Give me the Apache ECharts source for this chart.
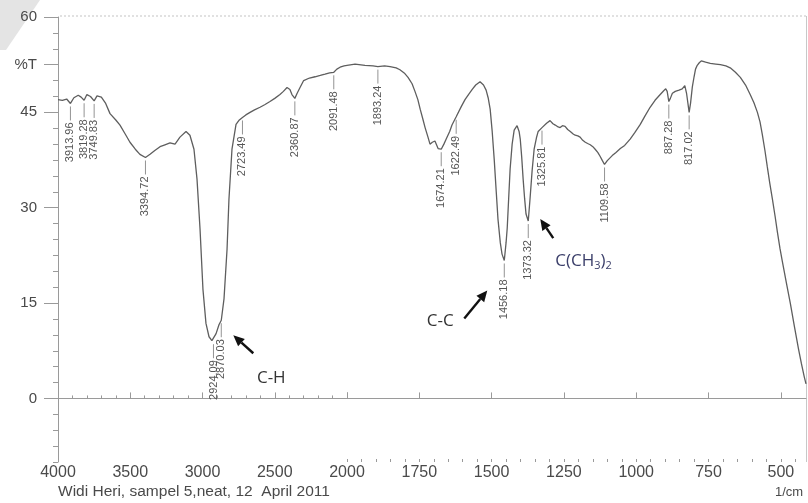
<!DOCTYPE html>
<html>
<head>
<meta charset="utf-8">
<title>IR spectrum – sampel 5</title>
<script src="https://cdn.jsdelivr.net/npm/echarts@6/dist/echarts.min.js"></script>
<style>
  html, body { margin: 0; padding: 0; background: #ffffff; }
  #chart { width: 808px; height: 503px; }
</style>
</head>
<body>
<div id="chart"></div>
<script>
// Wavenumber (1/cm) and transmittance (%T) of the recorded spectrum
const wavenumber = [
  4000, 3970, 3940, 3913.96, 3890, 3860, 3840, 3819.28, 3800, 3775, 3749.83, 3730, 3700,
  3670, 3640, 3600, 3571, 3535, 3502, 3465, 3433, 3394.72, 3363, 3330, 3294, 3260, 3225,
  3190, 3156, 3114, 3087, 3059, 3038, 3017, 2997, 2976, 2955, 2935, 2924.09, 2906, 2886,
  2870.03, 2851, 2830, 2817, 2796, 2768, 2745, 2723.49, 2700, 2671, 2640, 2602, 2570, 2533,
  2500, 2464, 2440, 2415, 2395, 2381, 2360.87, 2345, 2325, 2300, 2260, 2221, 2185, 2152,
  2120, 2091.48, 2070, 2048, 2020, 2000,
  1972, 1938, 1910, 1893.24, 1870, 1851, 1830, 1817, 1800, 1789, 1775, 1765, 1755, 1747,
  1738, 1730, 1720, 1713, 1705, 1696, 1685, 1674.21, 1665, 1657, 1645, 1637, 1622.49, 1605,
  1592, 1580, 1567, 1555, 1540, 1528, 1519, 1512, 1505, 1498, 1491, 1484, 1478, 1470, 1464,
  1456.18, 1450, 1446, 1441, 1436, 1429, 1422, 1412, 1405, 1401, 1396, 1391, 1386, 1381,
  1373.32, 1367, 1360, 1353, 1345, 1339, 1325.81, 1310, 1298, 1288, 1280, 1270, 1263, 1255,
  1246, 1237, 1228, 1218, 1211, 1202, 1194, 1185, 1176, 1168, 1159, 1150, 1142, 1133, 1125,
  1117, 1109.58, 1100, 1083, 1070, 1055, 1040, 1021, 1005, 986, 970, 952, 935, 917, 905,
  898, 893, 887.28, 882, 875, 865, 852, 841, 832, 826, 817.02, 812, 806, 800, 795, 789,
  782, 775, 760, 744, 725, 709, 690, 675, 657, 640, 622, 606, 593, 581, 572, 564, 555, 547,
  538, 529, 520, 512, 503, 495, 481, 467, 453, 439, 429, 419, 413
];
const transmittance = [
  47.0, 46.9, 47.1, 46.4, 47.3, 47.7, 47.4, 46.9, 47.8, 47.5, 46.8, 47.6, 47.4,
  46.4, 44.8, 43.8, 43.0, 41.6, 40.3, 39.2, 38.4, 37.9, 38.4, 39.0, 39.6, 39.9, 40.2,
  40.0, 41.1, 42.0, 41.4, 39.2, 34.5, 26.6, 17.2, 11.8, 9.7, 9.1, 9.0, 10.2, 11.6,
  12.3, 15.7, 23.5, 31.3, 39.2, 43.1, 43.8, 44.2, 44.6, 45.0, 45.4, 45.8, 46.2, 46.7,
  47.2, 47.8, 48.3, 48.9, 48.6, 47.8, 47.2, 48.0, 48.9, 50.0, 50.4, 50.6, 50.8, 51.0,
  51.2, 51.3, 51.8, 52.1, 52.3, 52.4,
  52.6, 52.4, 52.3, 52.2, 52.3, 52.2, 52.0, 51.7, 51.1, 50.5, 49.5, 48.3, 47.0, 45.5,
  44.0, 42.6, 41.1, 40.0, 40.3, 40.5, 39.3, 39.2, 40.0, 40.8, 42.0, 43.0, 44.3, 45.9,
  47.0, 47.8, 48.6, 49.3, 49.8, 49.3, 48.5, 47.3, 45.5, 42.0, 37.6, 32.5, 28.2, 24.5, 22.7,
  21.7, 24.5, 26.8, 31.5, 36.1, 40.0, 42.2, 42.9, 42.0, 40.8, 38.0, 34.5, 31.5, 29.0,
  27.9, 31.5, 35.8, 39.2, 41.0, 42.0, 42.6, 43.3, 43.7, 43.2, 43.0, 42.7, 42.6, 42.9,
  42.8, 42.3, 42.0, 41.6, 41.4, 41.3, 41.1, 40.6, 40.3, 40.1, 39.9, 39.6, 39.2, 38.7, 38.1,
  37.4, 36.8, 37.4, 38.2, 38.7, 39.3, 39.8, 40.8, 41.8, 43.1, 44.4, 45.8, 46.9, 47.8, 48.4,
  48.7, 48.3, 46.7, 47.2, 48.0, 48.3, 48.5, 48.7, 49.2, 48.0, 45.0, 46.5, 49.0, 50.6, 51.8, 52.4,
  52.8, 53.1, 52.9, 52.7, 52.6, 52.5, 52.3, 52.0, 51.3, 50.5, 49.3, 47.8, 46.5, 45.0, 43.5, 41.5, 39.0, 36.5,
  33.8, 31.3, 28.7, 26.2, 23.6, 21.6, 18.2, 14.9, 11.3, 7.8, 5.5, 3.4, 2.3
];

// Peak positions printed along the trace
const peakLabels = [
  "3913.96", "3819.28", "3749.83", "3394.72", "2924.09", "2870.03", "2723.49", "2360.87",
  "2091.48", "1893.24", "1674.21", "1622.49", "1456.18", "1373.32", "1325.81", "1109.58",
  "887.28", "817.02"
];

// Axis tick values (the wavenumber scale doubles below 2000 1/cm)
const upperTicks = [4000, 3500, 3000, 2500, 2000];
const lowerTicks = [2000, 1750, 1500, 1250, 1000, 750, 500];
const yTicks = [0, 15, 30, 45, 52.5, 60];
const yTickText = ["0", "15", "30", "45", "%T", "60"];

// Band assignments: group label and the band it points at
const bandNames = ["C-H", "C-C", "C(CH3)2"];
const bandPeaks = [2870.03, 1456.18, 1373.32];

const caption = "Widi Heri, sampel 5,neat, 12  April 2011";
const unitLabel = "1/cm";

// ---- series data, split at 2000 1/cm ----
const upperData = [], lowerData = [];
wavenumber.forEach((w, i) => {
  if (w >= 2000) upperData.push([w, transmittance[i]]);
  if (w <= 2000) lowerData.push([w, transmittance[i]]);
});
function peakPoint(txt) {
  const w = parseFloat(txt);
  const i = wavenumber.indexOf(w);
  return { w: w, t: transmittance[i], txt: txt };
}
const upperPeaks = peakLabels.map(peakPoint).filter(p => p.w > 2000);
const lowerPeaks = peakLabels.map(peakPoint).filter(p => p.w < 2000);

// minor tick positions
function steps(from, to, step) {
  const out = [];
  for (let v = from; v <= to + 1e-9; v += step) out.push(Math.round(v * 100) / 100);
  return out;
}
const upperMinor = steps(2000, 4000, 100);
const lowerMinor = steps(450, 2000, 50);
const yMinor = steps(-10, 60, 2.5);

const axisGray = '#9a9a9a';
const textGray = '#4a4a4a';
const traceGray = '#5e5e5e';
const tickFont = 'Liberation Sans, Arial, sans-serif';

function peakRenderer(list) {
  return function (params, api) {
    const p = api.coord([api.value(0), api.value(1)]);
    const txt = list[params.dataIndex].txt;
    return {
      type: 'group',
      children: [
        { type: 'line', shape: { x1: p[0], y1: p[1] + 3, x2: p[0], y2: p[1] + 17 },
          style: { stroke: '#777', lineWidth: 0.8 } },
        { type: 'text', x: p[0], y: p[1] + 19, rotation: Math.PI / 2,
          style: { text: txt, align: 'right', verticalAlign: 'middle',
                   font: '11px "Liberation Sans", Arial, sans-serif', fill: '#555' } }
      ]
    };
  };
}

function mainX(grid, min, max, ticks, hideFirst) {
  return {
    type: 'value', gridIndex: grid, min: min, max: max, inverse: true, position: 'bottom',
    axisLine: { lineStyle: { color: axisGray, width: 1 } },
    axisTick: { inside: true, length: 6, customValues: ticks, lineStyle: { color: axisGray } },
    splitLine: { show: false },
    axisLabel: {
      margin: 3, color: textGray, fontSize: 16, fontFamily: tickFont, customValues: ticks,
      showMinLabel: true, showMaxLabel: true,
      formatter: v => (hideFirst && v === 2000) ? '' : String(v)
    }
  };
}
function minorX(grid, min, max, ticks) {
  return {
    type: 'value', gridIndex: grid, min: min, max: max, inverse: true, position: 'bottom',
    axisLine: { show: false },
    axisTick: { inside: true, length: 3, customValues: ticks, lineStyle: { color: axisGray } },
    axisLabel: { show: false },
    splitLine: { show: false }
  };
}

const chart = echarts.init(document.getElementById('chart'), null, { renderer: 'canvas' });

const option = {
  backgroundColor: '#ffffff',
  animation: false,
  grid: [
    { left: 58, top: 17, width: 289, height: 445 },
    { left: 347, top: 17, width: 459, height: 445 }
  ],
  xAxis: [
    mainX(0, 2000, 4000, upperTicks, false),
    minorX(0, 2000, 4000, upperMinor),
    mainX(1, 413, 2000, lowerTicks, true),
    minorX(1, 413, 2000, lowerMinor)
  ],
  yAxis: [
    {
      type: 'value', gridIndex: 0, min: -10, max: 60, position: 'left',
      axisLine: { show: true, lineStyle: { color: axisGray, width: 1 } },
      axisTick: { show: true, length: 14, customValues: yTicks, lineStyle: { color: axisGray } },
      splitLine: { show: false },
      axisLabel: {
        margin: 21, color: textGray, fontSize: 15, fontFamily: tickFont, customValues: yTicks,
        formatter: v => {
          const k = yTicks.findIndex(t => Math.abs(t - v) < 1e-6);
          return k >= 0 ? yTickText[k] : '';
        }
      }
    },
    {
      type: 'value', gridIndex: 0, min: -10, max: 60, position: 'left',
      axisLine: { show: false },
      axisTick: { show: true, length: 5, customValues: yMinor, lineStyle: { color: axisGray } },
      axisLabel: { show: false },
      splitLine: { show: false }
    },
    { type: 'value', gridIndex: 1, min: -10, max: 60, show: false, splitLine: { show: false } }
  ],
  series: [
    {
      type: 'line', xAxisIndex: 0, yAxisIndex: 0, data: upperData, showSymbol: false,
      lineStyle: { color: traceGray, width: 1.3 }, silent: true
    },
    {
      type: 'line', xAxisIndex: 2, yAxisIndex: 2, data: lowerData, showSymbol: false,
      lineStyle: { color: traceGray, width: 1.3 }, silent: true
    },
    {
      type: 'custom', xAxisIndex: 0, yAxisIndex: 0, clip: false, silent: true,
      data: upperPeaks.map(p => [p.w, p.t]), renderItem: peakRenderer(upperPeaks)
    },
    {
      type: 'custom', xAxisIndex: 2, yAxisIndex: 2, clip: false, silent: true,
      data: lowerPeaks.map(p => [p.w, p.t]), renderItem: peakRenderer(lowerPeaks)
    }
  ]
};
chart.setOption(option);

// ---- band annotations: arrows pointing at the assigned bands ----
function bandPixel(w) {
  const i = wavenumber.indexOf(w);
  return w > 2000
    ? chart.convertToPixel({ xAxisIndex: 0, yAxisIndex: 0 }, [w, transmittance[i]])
    : chart.convertToPixel({ xAxisIndex: 2, yAxisIndex: 2 }, [w, transmittance[i]]);
}
function arrow(head, tail) {
  const dx = head[0] - tail[0], dy = head[1] - tail[1];
  const len = Math.sqrt(dx * dx + dy * dy);
  const ux = dx / len, uy = dy / len;
  const hl = 11, hw = 5;
  const bx = head[0] - ux * hl, by = head[1] - uy * hl;
  return [
    { type: 'line', shape: { x1: tail[0], y1: tail[1], x2: bx, y2: by },
      style: { stroke: '#111', lineWidth: 2.4 } },
    { type: 'polygon', shape: { points: [head, [bx - uy * hw, by + ux * hw], [bx + uy * hw, by - ux * hw]] },
      style: { fill: '#111' } }
  ];
}
// offsets of arrow head, arrow tail and text anchor from each band
const bandLayout = [
  { head: [12, 15], tail: [32, 33], text: [50, 58], align: 'center', color: '#333' },
  { head: [-17, 30], tail: [-40, 58], text: [-64, 61], align: 'center', color: '#333' },
  { head: [12, -2], tail: [25, 17], text: [27, 40], align: 'left', color: '#3b3f6a' }
];
const graphics = [];
// faint scanner shadow in the top-left corner
graphics.push({ type: 'polygon', shape: { points: [[0, 0], [40, 0], [6, 50], [0, 50]] },
  style: { fill: '#e4e4e4' }, silent: true, z: -1 });
// frame lines of the printout
graphics.push({ type: 'line', shape: { x1: 60, y1: 16, x2: 808, y2: 16 },
  style: { stroke: '#c4c4c4', lineWidth: 1, lineDash: [2, 2] }, silent: true });
graphics.push({ type: 'line', shape: { x1: 806.5, y1: 16, x2: 806.5, y2: 462 },
  style: { stroke: '#c8c8c8', lineWidth: 1 }, silent: true });

bandNames.forEach((name, k) => {
  const p = bandPixel(bandPeaks[k]);
  const L = bandLayout[k];
  arrow([p[0] + L.head[0], p[1] + L.head[1]], [p[0] + L.tail[0], p[1] + L.tail[1]])
    .forEach(el => graphics.push(Object.assign(el, { silent: true })));
  const rich = name.replace(/(\d)/g, '{s|$1}');
  graphics.push({
    type: 'text', x: p[0] + L.text[0], y: p[1] + L.text[1], silent: true,
    style: {
      text: rich, align: L.align, verticalAlign: 'middle',
      font: '17px "Open Sans", "Liberation Sans", sans-serif', fill: L.color,
      rich: { s: { fontSize: 11, fill: L.color, verticalAlign: 'bottom', padding: [9, 0, 0, 0],
                   fontFamily: '"Open Sans", "Liberation Sans", sans-serif' } }
    }
  });
});
graphics.push({ type: 'text', x: 58, y: 492, silent: true,
  style: { text: caption, align: 'left', verticalAlign: 'middle',
           font: '15.5px "Liberation Sans", Arial, sans-serif', fill: textGray } });
graphics.push({ type: 'text', x: 789, y: 492, silent: true,
  style: { text: unitLabel, align: 'center', verticalAlign: 'middle',
           font: '13px "Liberation Sans", Arial, sans-serif', fill: textGray } });

chart.setOption({ graphic: { elements: graphics } });
</script>
</body>
</html>
